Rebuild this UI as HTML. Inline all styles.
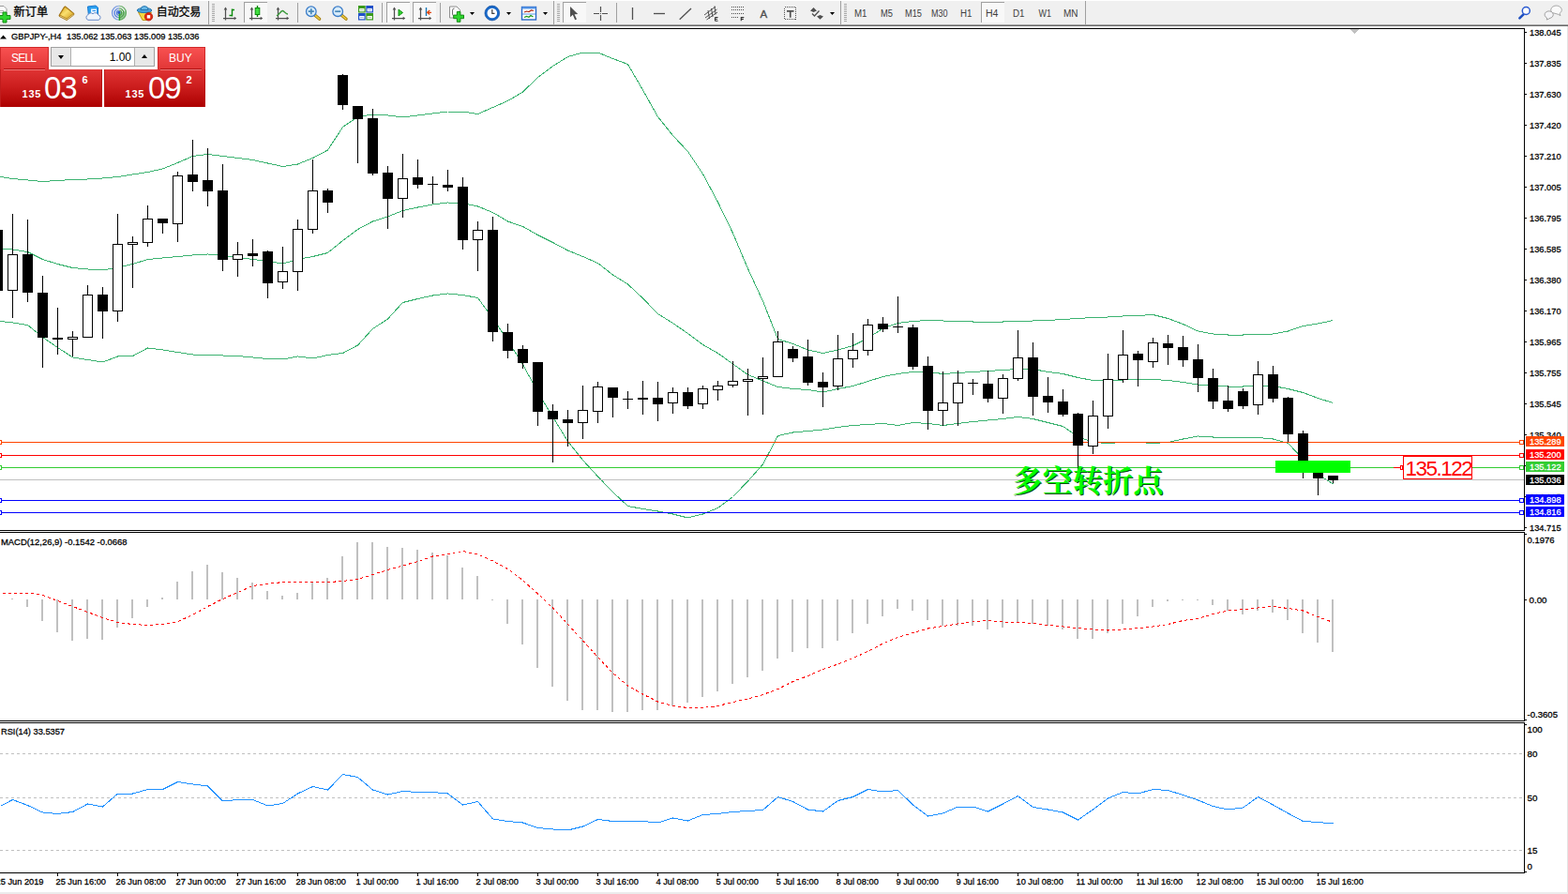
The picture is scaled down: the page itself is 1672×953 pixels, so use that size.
<!DOCTYPE html>
<html><head><meta charset="utf-8"><title>GBPJPY H4</title>
<style>
html,body{margin:0;padding:0;background:#fff;}
body{width:1672px;height:953px;overflow:hidden;position:relative;font-family:"Liberation Sans", sans-serif;}
#tb{position:absolute;left:0;top:0;width:1672px;height:28px;background:#f0f0f0;}
#tb .top{position:absolute;left:0;top:0;width:1672px;height:1px;background:#fff;}
#tb .l1{position:absolute;left:0;top:26px;width:1672px;height:1px;background:#a0a0a0;}
#tb .l2{position:absolute;left:0;top:27px;width:1672px;height:1px;background:#696969;}
#chart{position:absolute;left:0;top:0;}
.ax{font-family:"Liberation Sans", sans-serif;font-size:9.9px;stroke:currentColor;stroke-width:0.28px;}
svg text{font-family:"Liberation Sans", sans-serif;}
.rb{position:absolute;left:1671px;top:28px;width:1px;height:925px;background:#e4e4e4;}
.bb{position:absolute;left:0;top:951px;width:1672px;height:2px;background:#ececec;}
.oc div{position:absolute;}
.blk{background:linear-gradient(#f95252,#e13636);box-shadow:inset 1px 1px 0 #d02a2a,inset -1px 0 0 #d02a2a;}
.blk2{background:linear-gradient(#e03434,#cc1e1e 45%,#ac0000);box-shadow:inset 1px 0 0 #c01c1c,inset -1px 0 0 #b81414;}
.sep{height:1px;background:#f07878;box-shadow:0 -1px 0 #b01414;}
.t{color:#fff;font-size:12px;line-height:14px;}
.s{color:#fff;font-size:11px;font-weight:bold;line-height:12px;}
.big{color:#fff;font-size:33px;line-height:36px;letter-spacing:-1px;}
.inp{left:54px;top:50px;width:111px;height:21px;background:#fff;border:1px solid #a0a0a0;box-sizing:border-box;}
.inp .b1{left:0;top:0;width:20px;height:19px;background:#e8e8e8;border-right:1px solid #b0b0b0;}
.inp .b2{right:0;top:0;width:20px;height:19px;background:#e8e8e8;border-left:1px solid #b0b0b0;}
.inp .v{left:21px;top:1px;width:64px;height:19px;text-align:right;font-size:12px;line-height:19px;color:#000;}
.dn{position:absolute;left:7px;top:8px;border:3px solid transparent;border-top:4px solid #000;border-bottom:0;}
.upa{position:absolute;left:7px;top:7px;border:3px solid transparent;border-bottom:4px solid #000;border-top:0;}
</style></head><body>
<svg id="chart" width="1672" height="953" viewBox="0 0 1672 953" shape-rendering="crispEdges">
<rect x="0" y="30" width="1626" height="1" fill="#000"/>
<rect x="1625" y="30" width="1" height="536" fill="#000"/>
<rect x="0" y="565" width="1626" height="1" fill="#000"/>
<rect x="0" y="567" width="1626" height="1" fill="#000"/>
<rect x="1625" y="567" width="1" height="202" fill="#000"/>
<rect x="0" y="768" width="1626" height="1" fill="#000"/>
<rect x="0" y="770" width="1626" height="1" fill="#000"/>
<rect x="1625" y="770" width="1" height="161" fill="#000"/>
<rect x="0" y="930" width="1626" height="1" fill="#000"/>
<polyline points="0.5,188.5 13.5,190.5 29.5,192.0 45.5,193.5 61.5,192.5 77.5,191.5 93.5,191.0 109.5,190.0 125.5,188.5 141.5,186.0 157.5,183.5 173.5,180.0 189.5,173.5 205.5,166.5 221.5,164.5 237.5,166.5 253.5,168.5 269.5,170.5 285.5,174.0 301.5,177.5 317.5,175.0 333.5,168.5 349.5,160.0 365.5,135.5 381.5,124.5 397.5,122.0 413.5,123.0 429.5,125.0 445.5,123.0 461.5,121.0 477.5,119.0 493.5,119.0 509.5,121.5 525.5,114.5 541.5,107.5 557.5,98.0 573.5,82.5 589.5,70.5 605.5,60.5 621.5,56.0 637.5,56.0 653.5,62.5 669.5,68.5 685.5,96.0 701.5,124.5 717.5,144.5 733.5,161.5 749.5,185.5 765.5,215.5 781.5,248.5 797.5,286.5 813.5,321.0 829.5,361.5 845.5,366.5 861.5,373.0 877.5,376.5 893.5,373.0 909.5,368.5 925.5,360.5 941.5,350.0 957.5,344.5 973.5,342.5 989.5,341.5 1005.5,342.0 1021.5,342.5 1037.5,343.0 1053.5,343.0 1069.5,343.0 1085.5,342.5 1101.5,342.0 1117.5,341.5 1133.5,340.5 1149.5,339.5 1165.5,338.5 1181.5,338.0 1197.5,337.0 1213.5,336.5 1229.5,335.5 1245.5,339.5 1261.5,345.5 1277.5,353.0 1293.5,356.0 1309.5,357.0 1325.5,357.0 1341.5,356.5 1357.5,356.0 1373.5,353.0 1389.5,347.5 1405.5,345.0 1421.5,341.5" fill="none" stroke="#3cb371" stroke-width="1"/>
<polyline points="0.5,265.0 13.5,266.0 29.5,268.5 45.5,276.5 61.5,281.5 77.5,285.5 93.5,287.0 109.5,288.0 125.5,285.0 141.5,281.5 157.5,276.5 173.5,275.0 189.5,273.5 205.5,272.0 221.5,271.0 237.5,272.5 253.5,274.5 269.5,276.5 285.5,278.5 301.5,281.0 317.5,276.5 333.5,273.5 349.5,269.5 365.5,256.5 381.5,244.5 397.5,236.0 413.5,231.0 429.5,224.5 445.5,221.0 461.5,218.0 477.5,216.0 493.5,216.5 509.5,220.0 525.5,226.5 541.5,236.0 557.5,241.5 573.5,250.5 589.5,258.5 605.5,267.0 621.5,273.5 637.5,280.5 653.5,293.0 669.5,303.0 685.5,318.0 701.5,334.5 717.5,344.5 733.5,355.5 749.5,367.5 765.5,376.5 781.5,388.0 797.5,399.5 813.5,406.0 829.5,412.5 845.5,414.5 861.5,415.5 877.5,418.0 893.5,414.5 909.5,411.5 925.5,406.5 941.5,401.5 957.5,398.5 973.5,396.5 989.5,396.5 1005.5,398.5 1021.5,397.5 1037.5,396.5 1053.5,395.5 1069.5,394.5 1085.5,393.5 1101.5,393.5 1117.5,396.5 1133.5,398.5 1149.5,402.5 1165.5,405.5 1181.5,405.5 1197.5,405.0 1213.5,404.5 1229.5,404.5 1245.5,405.5 1261.5,407.5 1277.5,410.0 1293.5,411.0 1309.5,412.0 1325.5,412.0 1341.5,411.0 1357.5,411.5 1373.5,414.5 1389.5,418.5 1405.5,424.5 1421.5,429.5" fill="none" stroke="#3cb371" stroke-width="1"/>
<polyline points="0.5,342.5 13.5,344.0 29.5,346.5 45.5,359.5 61.5,370.5 77.5,381.0 93.5,383.5 109.5,386.0 125.5,380.0 141.5,379.5 157.5,371.0 173.5,373.0 189.5,375.5 205.5,378.0 221.5,378.5 237.5,379.0 253.5,379.5 269.5,381.0 285.5,382.5 301.5,383.0 317.5,380.0 333.5,382.0 349.5,378.5 365.5,376.5 381.5,368.0 397.5,350.5 413.5,340.0 429.5,322.5 445.5,318.5 461.5,315.0 477.5,313.0 493.5,314.5 509.5,317.5 525.5,339.5 541.5,363.0 557.5,388.5 573.5,418.0 589.5,444.5 605.5,470.5 621.5,490.5 637.5,508.0 653.5,524.5 669.5,539.5 685.5,542.5 701.5,545.0 717.5,548.0 733.5,552.0 749.5,548.0 765.5,541.5 781.5,529.5 797.5,513.0 813.5,495.0 829.5,464.5 845.5,461.0 861.5,459.5 877.5,458.0 893.5,455.5 909.5,453.5 925.5,452.5 941.5,451.5 957.5,453.5 973.5,450.5 989.5,451.5 1005.5,453.5 1021.5,451.5 1037.5,449.5 1053.5,448.0 1069.5,446.5 1085.5,444.5 1101.5,446.5 1117.5,450.5 1133.5,454.5 1149.5,465.5 1165.5,471.5 1181.5,472.5 1197.5,471.5 1213.5,471.5 1229.5,472.5 1245.5,471.5 1261.5,468.0 1277.5,465.0 1293.5,466.0 1309.5,466.0 1325.5,467.0 1341.5,466.5 1357.5,468.0 1373.5,472.5 1389.5,489.5 1405.5,505.5 1421.5,516.0" fill="none" stroke="#3cb371" stroke-width="1"/>
<rect x="0" y="511" width="1625" height="1" fill="#c0c0c0"/>
<rect x="0" y="471" width="1625" height="1" fill="#ff4500"/>
<rect x="-2.5" y="469.5" width="4" height="4" fill="#fff" stroke="#ff4500"/>
<rect x="1620.5" y="469.5" width="4" height="4" fill="#fff" stroke="#ff4500"/>
<rect x="0" y="485" width="1625" height="1" fill="#ff0000"/>
<rect x="-2.5" y="483.5" width="4" height="4" fill="#fff" stroke="#ff0000"/>
<rect x="1620.5" y="483.5" width="4" height="4" fill="#fff" stroke="#ff0000"/>
<rect x="0" y="498" width="1625" height="1" fill="#32cd32"/>
<rect x="-2.5" y="496.5" width="4" height="4" fill="#fff" stroke="#32cd32"/>
<rect x="1620.5" y="496.5" width="4" height="4" fill="#fff" stroke="#32cd32"/>
<rect x="0" y="533" width="1625" height="1" fill="#0000ff"/>
<rect x="-2.5" y="531.5" width="4" height="4" fill="#fff" stroke="#0000ff"/>
<rect x="1620.5" y="531.5" width="4" height="4" fill="#fff" stroke="#0000ff"/>
<rect x="0" y="546" width="1625" height="1" fill="#0000ff"/>
<rect x="-2.5" y="544.5" width="4" height="4" fill="#fff" stroke="#0000ff"/>
<rect x="1620.5" y="544.5" width="4" height="4" fill="#fff" stroke="#0000ff"/>
<rect x="-3" y="243" width="1" height="68" fill="#000"/>
<rect x="-8" y="245" width="11" height="65" fill="#000"/>
<rect x="13" y="228" width="1" height="111" fill="#000"/>
<rect x="8" y="271" width="11" height="39" fill="#000"/>
<rect x="9" y="272" width="9" height="37" fill="#fff"/>
<rect x="29" y="234" width="1" height="88" fill="#000"/>
<rect x="24" y="271" width="11" height="41" fill="#000"/>
<rect x="45" y="294" width="1" height="98" fill="#000"/>
<rect x="40" y="312" width="11" height="48" fill="#000"/>
<rect x="61" y="328" width="1" height="50" fill="#000"/>
<rect x="56" y="360" width="11" height="2" fill="#000"/>
<rect x="77" y="353" width="1" height="27" fill="#000"/>
<rect x="72" y="359" width="11" height="3" fill="#000"/>
<rect x="73" y="360" width="9" height="1" fill="#fff"/>
<rect x="93" y="304" width="1" height="56" fill="#000"/>
<rect x="88" y="314" width="11" height="46" fill="#000"/>
<rect x="89" y="315" width="9" height="44" fill="#fff"/>
<rect x="109" y="306" width="1" height="55" fill="#000"/>
<rect x="104" y="314" width="11" height="18" fill="#000"/>
<rect x="125" y="228" width="1" height="115" fill="#000"/>
<rect x="120" y="260" width="11" height="72" fill="#000"/>
<rect x="121" y="261" width="9" height="70" fill="#fff"/>
<rect x="141" y="252" width="1" height="55" fill="#000"/>
<rect x="136" y="258" width="11" height="3" fill="#000"/>
<rect x="137" y="259" width="9" height="1" fill="#fff"/>
<rect x="157" y="219" width="1" height="44" fill="#000"/>
<rect x="152" y="233" width="11" height="26" fill="#000"/>
<rect x="153" y="234" width="9" height="24" fill="#fff"/>
<rect x="173" y="233" width="1" height="16" fill="#000"/>
<rect x="168" y="233" width="11" height="5" fill="#000"/>
<rect x="189" y="183" width="1" height="75" fill="#000"/>
<rect x="184" y="187" width="11" height="52" fill="#000"/>
<rect x="185" y="188" width="9" height="50" fill="#fff"/>
<rect x="205" y="149" width="1" height="55" fill="#000"/>
<rect x="200" y="186" width="11" height="8" fill="#000"/>
<rect x="221" y="158" width="1" height="62" fill="#000"/>
<rect x="216" y="192" width="11" height="12" fill="#000"/>
<rect x="237" y="175" width="1" height="114" fill="#000"/>
<rect x="232" y="203" width="11" height="74" fill="#000"/>
<rect x="253" y="258" width="1" height="37" fill="#000"/>
<rect x="248" y="271" width="11" height="6" fill="#000"/>
<rect x="249" y="272" width="9" height="4" fill="#fff"/>
<rect x="269" y="255" width="1" height="29" fill="#000"/>
<rect x="264" y="270" width="11" height="3" fill="#000"/>
<rect x="285" y="267" width="1" height="51" fill="#000"/>
<rect x="280" y="268" width="11" height="34" fill="#000"/>
<rect x="301" y="263" width="1" height="45" fill="#000"/>
<rect x="296" y="289" width="11" height="12" fill="#000"/>
<rect x="297" y="290" width="9" height="10" fill="#fff"/>
<rect x="317" y="234" width="1" height="76" fill="#000"/>
<rect x="312" y="244" width="11" height="46" fill="#000"/>
<rect x="313" y="245" width="9" height="44" fill="#fff"/>
<rect x="333" y="170" width="1" height="79" fill="#000"/>
<rect x="328" y="203" width="11" height="42" fill="#000"/>
<rect x="329" y="204" width="9" height="40" fill="#fff"/>
<rect x="349" y="201" width="1" height="26" fill="#000"/>
<rect x="344" y="203" width="11" height="13" fill="#000"/>
<rect x="365" y="79" width="1" height="38" fill="#000"/>
<rect x="360" y="80" width="11" height="32" fill="#000"/>
<rect x="381" y="113" width="1" height="61" fill="#000"/>
<rect x="376" y="113" width="11" height="14" fill="#000"/>
<rect x="397" y="116" width="1" height="71" fill="#000"/>
<rect x="392" y="126" width="11" height="59" fill="#000"/>
<rect x="413" y="177" width="1" height="67" fill="#000"/>
<rect x="408" y="184" width="11" height="28" fill="#000"/>
<rect x="429" y="164" width="1" height="68" fill="#000"/>
<rect x="424" y="190" width="11" height="22" fill="#000"/>
<rect x="425" y="191" width="9" height="20" fill="#fff"/>
<rect x="445" y="170" width="1" height="31" fill="#000"/>
<rect x="440" y="189" width="11" height="8" fill="#000"/>
<rect x="461" y="188" width="1" height="29" fill="#000"/>
<rect x="456" y="196" width="11" height="1" fill="#000"/>
<rect x="477" y="181" width="1" height="23" fill="#000"/>
<rect x="472" y="197" width="11" height="3" fill="#000"/>
<rect x="493" y="189" width="1" height="77" fill="#000"/>
<rect x="488" y="199" width="11" height="57" fill="#000"/>
<rect x="509" y="236" width="1" height="53" fill="#000"/>
<rect x="504" y="245" width="11" height="11" fill="#000"/>
<rect x="505" y="246" width="9" height="9" fill="#fff"/>
<rect x="525" y="231" width="1" height="133" fill="#000"/>
<rect x="520" y="245" width="11" height="109" fill="#000"/>
<rect x="541" y="345" width="1" height="37" fill="#000"/>
<rect x="536" y="354" width="11" height="20" fill="#000"/>
<rect x="557" y="368" width="1" height="25" fill="#000"/>
<rect x="552" y="372" width="11" height="15" fill="#000"/>
<rect x="573" y="386" width="1" height="68" fill="#000"/>
<rect x="568" y="386" width="11" height="53" fill="#000"/>
<rect x="589" y="431" width="1" height="62" fill="#000"/>
<rect x="584" y="438" width="11" height="9" fill="#000"/>
<rect x="605" y="437" width="1" height="39" fill="#000"/>
<rect x="600" y="447" width="11" height="4" fill="#000"/>
<rect x="621" y="411" width="1" height="57" fill="#000"/>
<rect x="616" y="437" width="11" height="14" fill="#000"/>
<rect x="617" y="438" width="9" height="12" fill="#fff"/>
<rect x="637" y="407" width="1" height="44" fill="#000"/>
<rect x="632" y="412" width="11" height="27" fill="#000"/>
<rect x="633" y="413" width="9" height="25" fill="#fff"/>
<rect x="653" y="413" width="1" height="32" fill="#000"/>
<rect x="648" y="413" width="11" height="11" fill="#000"/>
<rect x="669" y="417" width="1" height="19" fill="#000"/>
<rect x="664" y="425" width="11" height="1" fill="#000"/>
<rect x="685" y="406" width="1" height="36" fill="#000"/>
<rect x="680" y="424" width="11" height="2" fill="#000"/>
<rect x="701" y="407" width="1" height="42" fill="#000"/>
<rect x="696" y="424" width="11" height="7" fill="#000"/>
<rect x="717" y="413" width="1" height="28" fill="#000"/>
<rect x="712" y="418" width="11" height="12" fill="#000"/>
<rect x="713" y="419" width="9" height="10" fill="#fff"/>
<rect x="733" y="413" width="1" height="23" fill="#000"/>
<rect x="728" y="418" width="11" height="15" fill="#000"/>
<rect x="749" y="411" width="1" height="25" fill="#000"/>
<rect x="744" y="414" width="11" height="17" fill="#000"/>
<rect x="745" y="415" width="9" height="15" fill="#fff"/>
<rect x="765" y="406" width="1" height="21" fill="#000"/>
<rect x="760" y="411" width="11" height="5" fill="#000"/>
<rect x="761" y="412" width="9" height="3" fill="#fff"/>
<rect x="781" y="385" width="1" height="28" fill="#000"/>
<rect x="776" y="406" width="11" height="5" fill="#000"/>
<rect x="777" y="407" width="9" height="3" fill="#fff"/>
<rect x="797" y="393" width="1" height="50" fill="#000"/>
<rect x="792" y="404" width="11" height="3" fill="#000"/>
<rect x="793" y="405" width="9" height="1" fill="#fff"/>
<rect x="813" y="381" width="1" height="61" fill="#000"/>
<rect x="808" y="401" width="11" height="3" fill="#000"/>
<rect x="809" y="402" width="9" height="1" fill="#fff"/>
<rect x="829" y="353" width="1" height="49" fill="#000"/>
<rect x="824" y="364" width="11" height="38" fill="#000"/>
<rect x="825" y="365" width="9" height="36" fill="#fff"/>
<rect x="845" y="369" width="1" height="17" fill="#000"/>
<rect x="840" y="372" width="11" height="10" fill="#000"/>
<rect x="861" y="362" width="1" height="49" fill="#000"/>
<rect x="856" y="380" width="11" height="28" fill="#000"/>
<rect x="877" y="397" width="1" height="37" fill="#000"/>
<rect x="872" y="407" width="11" height="6" fill="#000"/>
<rect x="893" y="357" width="1" height="59" fill="#000"/>
<rect x="888" y="382" width="11" height="30" fill="#000"/>
<rect x="889" y="383" width="9" height="28" fill="#fff"/>
<rect x="909" y="355" width="1" height="37" fill="#000"/>
<rect x="904" y="373" width="11" height="10" fill="#000"/>
<rect x="905" y="374" width="9" height="8" fill="#fff"/>
<rect x="925" y="340" width="1" height="39" fill="#000"/>
<rect x="920" y="346" width="11" height="28" fill="#000"/>
<rect x="921" y="347" width="9" height="26" fill="#fff"/>
<rect x="941" y="338" width="1" height="16" fill="#000"/>
<rect x="936" y="345" width="11" height="6" fill="#000"/>
<rect x="957" y="316" width="1" height="39" fill="#000"/>
<rect x="952" y="348" width="11" height="1" fill="#000"/>
<rect x="973" y="346" width="1" height="48" fill="#000"/>
<rect x="968" y="349" width="11" height="42" fill="#000"/>
<rect x="989" y="380" width="1" height="78" fill="#000"/>
<rect x="984" y="390" width="11" height="48" fill="#000"/>
<rect x="1005" y="396" width="1" height="58" fill="#000"/>
<rect x="1000" y="429" width="11" height="9" fill="#000"/>
<rect x="1001" y="430" width="9" height="7" fill="#fff"/>
<rect x="1021" y="395" width="1" height="59" fill="#000"/>
<rect x="1016" y="408" width="11" height="22" fill="#000"/>
<rect x="1017" y="409" width="9" height="20" fill="#fff"/>
<rect x="1037" y="404" width="1" height="17" fill="#000"/>
<rect x="1032" y="408" width="11" height="1" fill="#000"/>
<rect x="1053" y="395" width="1" height="34" fill="#000"/>
<rect x="1048" y="409" width="11" height="16" fill="#000"/>
<rect x="1069" y="399" width="1" height="42" fill="#000"/>
<rect x="1064" y="403" width="11" height="22" fill="#000"/>
<rect x="1065" y="404" width="9" height="20" fill="#fff"/>
<rect x="1085" y="352" width="1" height="54" fill="#000"/>
<rect x="1080" y="381" width="11" height="23" fill="#000"/>
<rect x="1081" y="382" width="9" height="21" fill="#fff"/>
<rect x="1101" y="365" width="1" height="78" fill="#000"/>
<rect x="1096" y="381" width="11" height="42" fill="#000"/>
<rect x="1117" y="402" width="1" height="38" fill="#000"/>
<rect x="1112" y="422" width="11" height="7" fill="#000"/>
<rect x="1133" y="415" width="1" height="29" fill="#000"/>
<rect x="1128" y="428" width="11" height="14" fill="#000"/>
<rect x="1149" y="440" width="1" height="62" fill="#000"/>
<rect x="1144" y="441" width="11" height="34" fill="#000"/>
<rect x="1165" y="427" width="1" height="57" fill="#000"/>
<rect x="1160" y="443" width="11" height="33" fill="#000"/>
<rect x="1161" y="444" width="9" height="31" fill="#fff"/>
<rect x="1181" y="377" width="1" height="80" fill="#000"/>
<rect x="1176" y="404" width="11" height="40" fill="#000"/>
<rect x="1177" y="405" width="9" height="38" fill="#fff"/>
<rect x="1197" y="352" width="1" height="56" fill="#000"/>
<rect x="1192" y="378" width="11" height="27" fill="#000"/>
<rect x="1193" y="379" width="9" height="25" fill="#fff"/>
<rect x="1213" y="374" width="1" height="38" fill="#000"/>
<rect x="1208" y="377" width="11" height="7" fill="#000"/>
<rect x="1229" y="360" width="1" height="32" fill="#000"/>
<rect x="1224" y="365" width="11" height="21" fill="#000"/>
<rect x="1225" y="366" width="9" height="19" fill="#fff"/>
<rect x="1245" y="357" width="1" height="32" fill="#000"/>
<rect x="1240" y="366" width="11" height="5" fill="#000"/>
<rect x="1261" y="358" width="1" height="33" fill="#000"/>
<rect x="1256" y="370" width="11" height="14" fill="#000"/>
<rect x="1277" y="367" width="1" height="51" fill="#000"/>
<rect x="1272" y="383" width="11" height="20" fill="#000"/>
<rect x="1293" y="393" width="1" height="43" fill="#000"/>
<rect x="1288" y="403" width="11" height="25" fill="#000"/>
<rect x="1309" y="411" width="1" height="28" fill="#000"/>
<rect x="1304" y="427" width="11" height="9" fill="#000"/>
<rect x="1325" y="414" width="1" height="22" fill="#000"/>
<rect x="1320" y="417" width="11" height="16" fill="#000"/>
<rect x="1341" y="385" width="1" height="57" fill="#000"/>
<rect x="1336" y="399" width="11" height="33" fill="#000"/>
<rect x="1337" y="400" width="9" height="31" fill="#fff"/>
<rect x="1357" y="390" width="1" height="39" fill="#000"/>
<rect x="1352" y="399" width="11" height="26" fill="#000"/>
<rect x="1373" y="423" width="1" height="48" fill="#000"/>
<rect x="1368" y="424" width="11" height="39" fill="#000"/>
<rect x="1389" y="459" width="1" height="51" fill="#000"/>
<rect x="1384" y="462" width="11" height="30" fill="#000"/>
<rect x="1405" y="500" width="1" height="28" fill="#000"/>
<rect x="1400" y="504" width="11" height="6" fill="#000"/>
<rect x="1421" y="507" width="1" height="8" fill="#000"/>
<rect x="1416" y="507" width="11" height="5" fill="#000"/>
<rect x="1360" y="491" width="80" height="13" fill="#00ff00"/>
<rect x="1626" y="34" width="2" height="1" fill="#000"/>
<text x="1631" y="38.1" class="ax" textLength="33.6" lengthAdjust="spacingAndGlyphs">138.045</text>
<rect x="1626" y="67" width="2" height="1" fill="#000"/>
<text x="1631" y="71.1" class="ax" textLength="33.6" lengthAdjust="spacingAndGlyphs">137.835</text>
<rect x="1626" y="100" width="2" height="1" fill="#000"/>
<text x="1631" y="104.1" class="ax" textLength="33.6" lengthAdjust="spacingAndGlyphs">137.630</text>
<rect x="1626" y="133" width="2" height="1" fill="#000"/>
<text x="1631" y="137.1" class="ax" textLength="33.6" lengthAdjust="spacingAndGlyphs">137.420</text>
<rect x="1626" y="166" width="2" height="1" fill="#000"/>
<text x="1631" y="170.1" class="ax" textLength="33.6" lengthAdjust="spacingAndGlyphs">137.210</text>
<rect x="1626" y="199" width="2" height="1" fill="#000"/>
<text x="1631" y="203.1" class="ax" textLength="33.6" lengthAdjust="spacingAndGlyphs">137.005</text>
<rect x="1626" y="232" width="2" height="1" fill="#000"/>
<text x="1631" y="236.1" class="ax" textLength="33.6" lengthAdjust="spacingAndGlyphs">136.795</text>
<rect x="1626" y="265" width="2" height="1" fill="#000"/>
<text x="1631" y="269.1" class="ax" textLength="33.6" lengthAdjust="spacingAndGlyphs">136.585</text>
<rect x="1626" y="298" width="2" height="1" fill="#000"/>
<text x="1631" y="302.1" class="ax" textLength="33.6" lengthAdjust="spacingAndGlyphs">136.380</text>
<rect x="1626" y="331" width="2" height="1" fill="#000"/>
<text x="1631" y="335.1" class="ax" textLength="33.6" lengthAdjust="spacingAndGlyphs">136.170</text>
<rect x="1626" y="364" width="2" height="1" fill="#000"/>
<text x="1631" y="368.1" class="ax" textLength="33.6" lengthAdjust="spacingAndGlyphs">135.965</text>
<rect x="1626" y="397" width="2" height="1" fill="#000"/>
<text x="1631" y="401.1" class="ax" textLength="33.6" lengthAdjust="spacingAndGlyphs">135.755</text>
<rect x="1626" y="430" width="2" height="1" fill="#000"/>
<text x="1631" y="434.1" class="ax" textLength="33.6" lengthAdjust="spacingAndGlyphs">135.545</text>
<rect x="1626" y="463" width="2" height="1" fill="#000"/>
<text x="1631" y="467.1" class="ax" textLength="33.6" lengthAdjust="spacingAndGlyphs">135.340</text>
<rect x="1626" y="496" width="2" height="1" fill="#000"/>
<text x="1631" y="500.1" class="ax" textLength="33.6" lengthAdjust="spacingAndGlyphs">135.130</text>
<rect x="1626" y="529" width="2" height="1" fill="#000"/>
<text x="1631" y="533.1" class="ax" textLength="33.6" lengthAdjust="spacingAndGlyphs">134.925</text>
<rect x="1626" y="562" width="2" height="1" fill="#000"/>
<text x="1631" y="566.1" class="ax" textLength="33.6" lengthAdjust="spacingAndGlyphs">134.715</text>
<rect x="1627" y="465" width="41" height="11" fill="#ff4500"/>
<text x="1631" y="474.3" class="ax" fill="#fff" style="color:#fff" textLength="33.6" lengthAdjust="spacingAndGlyphs">135.289</text>
<rect x="1627" y="479" width="41" height="11" fill="#ff0000"/>
<text x="1631" y="488.3" class="ax" fill="#fff" style="color:#fff" textLength="33.6" lengthAdjust="spacingAndGlyphs">135.200</text>
<rect x="1627" y="492" width="41" height="11" fill="#32cd32"/>
<text x="1631" y="501.3" class="ax" fill="#fff" style="color:#fff" textLength="33.6" lengthAdjust="spacingAndGlyphs">135.122</text>
<rect x="1627" y="527" width="41" height="11" fill="#0000ff"/>
<text x="1631" y="536.3" class="ax" fill="#fff" style="color:#fff" textLength="33.6" lengthAdjust="spacingAndGlyphs">134.898</text>
<rect x="1627" y="540" width="41" height="11" fill="#0000ff"/>
<text x="1631" y="549.3" class="ax" fill="#fff" style="color:#fff" textLength="33.6" lengthAdjust="spacingAndGlyphs">134.816</text>
<rect x="1627" y="506" width="41" height="11" fill="#000000"/>
<text x="1631" y="515.3" class="ax" fill="#fff" style="color:#fff" textLength="33.6" lengthAdjust="spacingAndGlyphs">135.036</text>
<rect x="12" y="638" width="2" height="1" fill="#c0c0c0"/>
<rect x="28" y="639" width="2" height="8" fill="#c0c0c0"/>
<rect x="44" y="639" width="2" height="23" fill="#c0c0c0"/>
<rect x="60" y="639" width="2" height="35" fill="#c0c0c0"/>
<rect x="76" y="639" width="2" height="44" fill="#c0c0c0"/>
<rect x="92" y="639" width="2" height="42" fill="#c0c0c0"/>
<rect x="108" y="639" width="2" height="43" fill="#c0c0c0"/>
<rect x="124" y="639" width="2" height="30" fill="#c0c0c0"/>
<rect x="140" y="639" width="2" height="20" fill="#c0c0c0"/>
<rect x="156" y="639" width="2" height="8" fill="#c0c0c0"/>
<rect x="172" y="637" width="2" height="2" fill="#c0c0c0"/>
<rect x="188" y="620" width="2" height="19" fill="#c0c0c0"/>
<rect x="204" y="609" width="2" height="30" fill="#c0c0c0"/>
<rect x="220" y="602" width="2" height="37" fill="#c0c0c0"/>
<rect x="236" y="610" width="2" height="29" fill="#c0c0c0"/>
<rect x="252" y="616" width="2" height="23" fill="#c0c0c0"/>
<rect x="268" y="621" width="2" height="18" fill="#c0c0c0"/>
<rect x="284" y="630" width="2" height="9" fill="#c0c0c0"/>
<rect x="300" y="635" width="2" height="4" fill="#c0c0c0"/>
<rect x="316" y="632" width="2" height="7" fill="#c0c0c0"/>
<rect x="332" y="620" width="2" height="19" fill="#c0c0c0"/>
<rect x="348" y="616" width="2" height="23" fill="#c0c0c0"/>
<rect x="364" y="593" width="2" height="46" fill="#c0c0c0"/>
<rect x="380" y="578" width="2" height="61" fill="#c0c0c0"/>
<rect x="396" y="578" width="2" height="61" fill="#c0c0c0"/>
<rect x="412" y="583" width="2" height="56" fill="#c0c0c0"/>
<rect x="428" y="584" width="2" height="55" fill="#c0c0c0"/>
<rect x="444" y="586" width="2" height="53" fill="#c0c0c0"/>
<rect x="460" y="589" width="2" height="50" fill="#c0c0c0"/>
<rect x="476" y="592" width="2" height="47" fill="#c0c0c0"/>
<rect x="492" y="605" width="2" height="34" fill="#c0c0c0"/>
<rect x="508" y="614" width="2" height="25" fill="#c0c0c0"/>
<rect x="524" y="639" width="2" height="1" fill="#c0c0c0"/>
<rect x="540" y="639" width="2" height="26" fill="#c0c0c0"/>
<rect x="556" y="639" width="2" height="48" fill="#c0c0c0"/>
<rect x="572" y="639" width="2" height="73" fill="#c0c0c0"/>
<rect x="588" y="639" width="2" height="93" fill="#c0c0c0"/>
<rect x="604" y="639" width="2" height="108" fill="#c0c0c0"/>
<rect x="620" y="639" width="2" height="118" fill="#c0c0c0"/>
<rect x="636" y="639" width="2" height="118" fill="#c0c0c0"/>
<rect x="652" y="639" width="2" height="120" fill="#c0c0c0"/>
<rect x="668" y="639" width="2" height="120" fill="#c0c0c0"/>
<rect x="684" y="639" width="2" height="118" fill="#c0c0c0"/>
<rect x="700" y="639" width="2" height="118" fill="#c0c0c0"/>
<rect x="716" y="639" width="2" height="113" fill="#c0c0c0"/>
<rect x="732" y="639" width="2" height="110" fill="#c0c0c0"/>
<rect x="748" y="639" width="2" height="104" fill="#c0c0c0"/>
<rect x="764" y="639" width="2" height="98" fill="#c0c0c0"/>
<rect x="780" y="639" width="2" height="90" fill="#c0c0c0"/>
<rect x="796" y="639" width="2" height="83" fill="#c0c0c0"/>
<rect x="812" y="639" width="2" height="76" fill="#c0c0c0"/>
<rect x="828" y="639" width="2" height="63" fill="#c0c0c0"/>
<rect x="844" y="639" width="2" height="56" fill="#c0c0c0"/>
<rect x="860" y="639" width="2" height="52" fill="#c0c0c0"/>
<rect x="876" y="639" width="2" height="52" fill="#c0c0c0"/>
<rect x="892" y="639" width="2" height="44" fill="#c0c0c0"/>
<rect x="908" y="639" width="2" height="36" fill="#c0c0c0"/>
<rect x="924" y="639" width="2" height="26" fill="#c0c0c0"/>
<rect x="940" y="639" width="2" height="18" fill="#c0c0c0"/>
<rect x="956" y="639" width="2" height="10" fill="#c0c0c0"/>
<rect x="972" y="639" width="2" height="12" fill="#c0c0c0"/>
<rect x="988" y="639" width="2" height="22" fill="#c0c0c0"/>
<rect x="1004" y="639" width="2" height="28" fill="#c0c0c0"/>
<rect x="1020" y="639" width="2" height="28" fill="#c0c0c0"/>
<rect x="1036" y="639" width="2" height="28" fill="#c0c0c0"/>
<rect x="1052" y="639" width="2" height="32" fill="#c0c0c0"/>
<rect x="1068" y="639" width="2" height="30" fill="#c0c0c0"/>
<rect x="1084" y="639" width="2" height="24" fill="#c0c0c0"/>
<rect x="1100" y="639" width="2" height="26" fill="#c0c0c0"/>
<rect x="1116" y="639" width="2" height="28" fill="#c0c0c0"/>
<rect x="1132" y="639" width="2" height="32" fill="#c0c0c0"/>
<rect x="1148" y="639" width="2" height="42" fill="#c0c0c0"/>
<rect x="1164" y="639" width="2" height="42" fill="#c0c0c0"/>
<rect x="1180" y="639" width="2" height="36" fill="#c0c0c0"/>
<rect x="1196" y="639" width="2" height="26" fill="#c0c0c0"/>
<rect x="1212" y="639" width="2" height="18" fill="#c0c0c0"/>
<rect x="1228" y="639" width="2" height="8" fill="#c0c0c0"/>
<rect x="1244" y="639" width="2" height="2" fill="#c0c0c0"/>
<rect x="1260" y="639" width="2" height="1" fill="#c0c0c0"/>
<rect x="1276" y="639" width="2" height="1" fill="#c0c0c0"/>
<rect x="1292" y="639" width="2" height="6" fill="#c0c0c0"/>
<rect x="1308" y="639" width="2" height="12" fill="#c0c0c0"/>
<rect x="1324" y="639" width="2" height="16" fill="#c0c0c0"/>
<rect x="1340" y="639" width="2" height="12" fill="#c0c0c0"/>
<rect x="1356" y="639" width="2" height="14" fill="#c0c0c0"/>
<rect x="1372" y="639" width="2" height="22" fill="#c0c0c0"/>
<rect x="1388" y="639" width="2" height="36" fill="#c0c0c0"/>
<rect x="1404" y="639" width="2" height="46" fill="#c0c0c0"/>
<rect x="1420" y="639" width="2" height="56" fill="#c0c0c0"/>
<polyline points="3.5,633.0 13.5,632.0 29.5,632.0 45.5,634.5 61.5,640.5 77.5,646.5 93.5,652.5 109.5,658.5 125.5,663.5 141.5,665.5 157.5,666.5 173.5,665.5 189.5,662.5 205.5,655.5 221.5,646.5 237.5,638.5 253.5,631.5 269.5,624.5 285.5,622.5 301.5,620.5 317.5,620.0 333.5,621.0 349.5,620.5 365.5,619.5 381.5,617.5 397.5,612.5 413.5,607.5 429.5,603.0 445.5,598.5 461.5,593.0 477.5,590.5 493.5,587.5 509.5,591.0 525.5,598.0 541.5,606.5 557.5,618.5 573.5,633.0 589.5,648.0 605.5,665.5 621.5,683.0 637.5,700.5 653.5,717.5 669.5,731.0 685.5,740.0 701.5,748.0 717.5,752.5 733.5,754.5 749.5,754.5 765.5,752.5 781.5,748.5 797.5,745.0 813.5,740.5 829.5,734.5 845.5,726.5 861.5,720.5 877.5,713.5 893.5,708.0 909.5,701.5 925.5,694.5 941.5,686.0 957.5,679.5 973.5,674.5 989.5,670.0 1005.5,667.5 1021.5,665.0 1037.5,663.0 1053.5,661.5 1069.5,663.0 1085.5,663.0 1101.5,664.5 1117.5,666.5 1133.5,668.0 1149.5,669.5 1165.5,671.0 1181.5,672.0 1197.5,671.0 1213.5,669.5 1229.5,668.0 1245.5,665.5 1261.5,661.5 1277.5,659.5 1293.5,654.5 1309.5,651.0 1325.5,649.5 1341.5,648.0 1357.5,646.5 1373.5,648.5 1389.5,651.0 1405.5,657.5 1421.5,663.5" fill="none" stroke="#ff0000" stroke-width="1" stroke-dasharray="3 3"/>
<rect x="1626" y="569" width="2" height="1" fill="#000"/>
<rect x="1626" y="639" width="2" height="1" fill="#000"/>
<rect x="1626" y="767" width="2" height="1" fill="#000"/>
<rect x="1626" y="772" width="2" height="1" fill="#000"/>
<rect x="1626" y="929" width="2" height="1" fill="#000"/>
<text x="1628.5" y="578.5" class="ax" textLength="29" lengthAdjust="spacingAndGlyphs">0.1976</text>
<text x="1630.5" y="643.2" class="ax" textLength="19" lengthAdjust="spacingAndGlyphs">0.00</text>
<text x="1628.5" y="765" class="ax" textLength="32.5" lengthAdjust="spacingAndGlyphs">-0.3605</text>
<text x="1" y="580.5" class="ax" textLength="134.5" lengthAdjust="spacingAndGlyphs">MACD(12,26,9) -0.1542 -0.0668</text>
<line x1="0" y1="803.5" x2="1625" y2="803.5" stroke="#c0c0c0" stroke-dasharray="3 3"/>
<line x1="0" y1="850.5" x2="1625" y2="850.5" stroke="#c0c0c0" stroke-dasharray="3 3"/>
<line x1="0" y1="906.5" x2="1625" y2="906.5" stroke="#c0c0c0" stroke-dasharray="3 3"/>
<polyline points="0.5,859.2 13.5,852.5 29.5,858.5 45.5,866.0 61.5,867.5 77.5,865.5 93.5,857.0 109.5,860.0 125.5,846.0 141.5,846.0 157.5,841.5 173.5,841.5 189.5,833.5 205.5,836.0 221.5,838.0 237.5,854.0 253.5,852.5 269.5,852.5 285.5,859.0 301.5,856.5 317.5,846.0 333.5,838.5 349.5,842.0 365.5,825.5 381.5,828.5 397.5,842.0 413.5,847.0 429.5,843.5 445.5,844.5 461.5,844.5 477.5,846.0 493.5,858.0 509.5,854.5 525.5,873.0 541.5,875.5 557.5,877.0 573.5,882.5 589.5,884.0 605.5,885.0 621.5,881.0 637.5,873.5 653.5,875.5 669.5,875.5 685.5,875.5 701.5,877.0 717.5,872.0 733.5,875.0 749.5,868.5 765.5,867.5 781.5,865.5 797.5,864.5 813.5,863.5 829.5,849.5 845.5,854.5 861.5,863.0 877.5,865.0 893.5,853.5 909.5,849.5 925.5,841.5 941.5,844.0 957.5,842.5 973.5,858.0 989.5,870.0 1005.5,867.0 1021.5,860.0 1037.5,860.0 1053.5,865.0 1069.5,857.0 1085.5,848.5 1101.5,860.5 1117.5,863.0 1133.5,866.0 1149.5,874.0 1165.5,863.0 1181.5,851.0 1197.5,844.5 1213.5,846.0 1229.5,841.5 1245.5,842.5 1261.5,847.5 1277.5,853.0 1293.5,859.5 1309.5,863.0 1325.5,861.0 1341.5,849.5 1357.5,858.0 1373.5,867.0 1389.5,875.5 1405.5,876.5 1421.5,878.0" fill="none" stroke="#1e90ff" stroke-width="1"/>
<text x="1628.5" y="781.2" class="ax" textLength="16.3" lengthAdjust="spacingAndGlyphs">100</text>
<text x="1628.5" y="807.2" class="ax" textLength="10.9" lengthAdjust="spacingAndGlyphs">80</text>
<text x="1628.5" y="854.2" class="ax" textLength="10.9" lengthAdjust="spacingAndGlyphs">50</text>
<text x="1628.5" y="910.2" class="ax" textLength="10.9" lengthAdjust="spacingAndGlyphs">15</text>
<text x="1628.5" y="927.2" class="ax" textLength="5.4" lengthAdjust="spacingAndGlyphs">0</text>
<text x="1" y="782.6" class="ax" textLength="68" lengthAdjust="spacingAndGlyphs">RSI(14) 33.5357</text>
<text x="46.5" y="943" class="ax" text-anchor="end" textLength="50.9" lengthAdjust="spacingAndGlyphs">25 Jun 2019</text>
<rect x="61" y="931" width="1" height="3" fill="#000"/>
<text x="59.5" y="943" class="ax" textLength="53.5" lengthAdjust="spacingAndGlyphs">25 Jun 16:00</text>
<rect x="125" y="931" width="1" height="3" fill="#000"/>
<text x="123.5" y="943" class="ax" textLength="53.5" lengthAdjust="spacingAndGlyphs">26 Jun 08:00</text>
<rect x="189" y="931" width="1" height="3" fill="#000"/>
<text x="187.5" y="943" class="ax" textLength="53.5" lengthAdjust="spacingAndGlyphs">27 Jun 00:00</text>
<rect x="253" y="931" width="1" height="3" fill="#000"/>
<text x="251.5" y="943" class="ax" textLength="53.5" lengthAdjust="spacingAndGlyphs">27 Jun 16:00</text>
<rect x="317" y="931" width="1" height="3" fill="#000"/>
<text x="315.5" y="943" class="ax" textLength="53.5" lengthAdjust="spacingAndGlyphs">28 Jun 08:00</text>
<rect x="381" y="931" width="1" height="3" fill="#000"/>
<text x="379.5" y="943" class="ax" textLength="45.3" lengthAdjust="spacingAndGlyphs">1 Jul 00:00</text>
<rect x="445" y="931" width="1" height="3" fill="#000"/>
<text x="443.5" y="943" class="ax" textLength="45.3" lengthAdjust="spacingAndGlyphs">1 Jul 16:00</text>
<rect x="509" y="931" width="1" height="3" fill="#000"/>
<text x="507.5" y="943" class="ax" textLength="45.3" lengthAdjust="spacingAndGlyphs">2 Jul 08:00</text>
<rect x="573" y="931" width="1" height="3" fill="#000"/>
<text x="571.5" y="943" class="ax" textLength="45.3" lengthAdjust="spacingAndGlyphs">3 Jul 00:00</text>
<rect x="637" y="931" width="1" height="3" fill="#000"/>
<text x="635.5" y="943" class="ax" textLength="45.3" lengthAdjust="spacingAndGlyphs">3 Jul 16:00</text>
<rect x="701" y="931" width="1" height="3" fill="#000"/>
<text x="699.5" y="943" class="ax" textLength="45.3" lengthAdjust="spacingAndGlyphs">4 Jul 08:00</text>
<rect x="765" y="931" width="1" height="3" fill="#000"/>
<text x="763.5" y="943" class="ax" textLength="45.3" lengthAdjust="spacingAndGlyphs">5 Jul 00:00</text>
<rect x="829" y="931" width="1" height="3" fill="#000"/>
<text x="827.5" y="943" class="ax" textLength="45.3" lengthAdjust="spacingAndGlyphs">5 Jul 16:00</text>
<rect x="893" y="931" width="1" height="3" fill="#000"/>
<text x="891.5" y="943" class="ax" textLength="45.3" lengthAdjust="spacingAndGlyphs">8 Jul 08:00</text>
<rect x="957" y="931" width="1" height="3" fill="#000"/>
<text x="955.5" y="943" class="ax" textLength="45.3" lengthAdjust="spacingAndGlyphs">9 Jul 00:00</text>
<rect x="1021" y="931" width="1" height="3" fill="#000"/>
<text x="1019.5" y="943" class="ax" textLength="45.3" lengthAdjust="spacingAndGlyphs">9 Jul 16:00</text>
<rect x="1085" y="931" width="1" height="3" fill="#000"/>
<text x="1083.5" y="943" class="ax" textLength="50.4" lengthAdjust="spacingAndGlyphs">10 Jul 08:00</text>
<rect x="1149" y="931" width="1" height="3" fill="#000"/>
<text x="1147.5" y="943" class="ax" textLength="49.7" lengthAdjust="spacingAndGlyphs">11 Jul 00:00</text>
<rect x="1213" y="931" width="1" height="3" fill="#000"/>
<text x="1211.5" y="943" class="ax" textLength="49.7" lengthAdjust="spacingAndGlyphs">11 Jul 16:00</text>
<rect x="1277" y="931" width="1" height="3" fill="#000"/>
<text x="1275.5" y="943" class="ax" textLength="50.4" lengthAdjust="spacingAndGlyphs">12 Jul 08:00</text>
<rect x="1341" y="931" width="1" height="3" fill="#000"/>
<text x="1339.5" y="943" class="ax" textLength="50.4" lengthAdjust="spacingAndGlyphs">15 Jul 00:00</text>
<rect x="1405" y="931" width="1" height="3" fill="#000"/>
<text x="1403.5" y="943" class="ax" textLength="50.4" lengthAdjust="spacingAndGlyphs">15 Jul 16:00</text>
<path d="M0 41.5 L3.5 37.5 L7 41.5 Z" fill="#000" shape-rendering="auto"/>
<text x="12" y="41.5" class="ax" textLength="53.5" lengthAdjust="spacingAndGlyphs">GBPJPY-,H4</text>
<text x="71" y="41.5" class="ax" textLength="141.5" lengthAdjust="spacingAndGlyphs">135.062 135.063 135.009 135.036</text>
<path d="M1439 31 L1449 31 L1444 36 Z" fill="#c0c0c0"/>
<g shape-rendering="auto"><text x="1080.5" y="524.5" font-size="32" font-weight="bold" fill="#0a4d0a" textLength="161" lengthAdjust="spacing" style='font-family:"Liberation Serif","Noto Serif CJK SC",serif'>多空转折点</text></g>
<g shape-rendering="auto"><text x="1079.5" y="523.5" font-size="32" font-weight="bold" fill="#00ff00" textLength="161" lengthAdjust="spacing" style='font-family:"Liberation Serif","Noto Serif CJK SC",serif'>多空转折点</text></g>
<rect x="1486" y="498" width="8" height="1" fill="#ff0000"/>
<rect x="1493.5" y="496.5" width="2" height="4" fill="#fff" stroke="#ff0000"/>
<rect x="1496.5" y="486.5" width="73" height="24" fill="#fff" stroke="#ff0000"/>
<text x="1498.5" y="506.6" font-family='"Liberation Sans", sans-serif' font-size="22.5" fill="#ff0000" letter-spacing="-1.5" shape-rendering="auto">135.122</text>
</svg>

<div class="oc">
 <div class="blk" style="left:0;top:50px;width:52px;height:24px;"></div>
 <div class="blk" style="left:168px;top:50px;width:51px;height:24px;"></div>
 <div class="blk2" style="left:0;top:74px;width:109px;height:40px;"></div>
 <div class="blk2" style="left:111px;top:74px;width:108px;height:40px;"></div>
 <div class="sep" style="left:4px;top:74px;width:44px;"></div>
 <div class="sep" style="left:171px;top:74px;width:44px;"></div>
 <div class="t" style="left:12px;top:55px;letter-spacing:-0.8px;">SELL</div>
 <div class="t" style="left:180px;top:55px;">BUY</div>
 <div class="inp"><div class="b1"><i class="dn"></i></div><div class="v">1.00</div><div class="b2"><i class="upa"></i></div></div>
 <div class="s" style="left:23.5px;top:94px;letter-spacing:0.8px;">135</div><div class="big" style="left:47px;top:76px;">03</div><div class="s" style="left:87.5px;top:78.5px;">6</div>
 <div class="s" style="left:133.5px;top:94px;letter-spacing:0.8px;">135</div><div class="big" style="left:158px;top:76px;">09</div><div class="s" style="left:198.5px;top:78.5px;">2</div>
</div>

<div class="rb"></div><div class="bb"></div>
<div id="tb"><div class="top"></div><div class="l1"></div><div class="l2"></div>
<svg width="1672" height="28" viewBox="0 0 1672 28" style="position:absolute;left:0;top:0">
<path d="M-2 6.5 H4 L7 9.5 V18 H-2 Z" fill="#fdfdfd" stroke="#9a9a9a" stroke-width="1"/>
<path d="M0 11.5 H4 M0 13.5 H3" stroke="#b0b0b0" stroke-width="1"/>
<path d="M3 13 h4 v3.5 h4 v4 h-4 v3.5 h-4 v-3.5 h-4 v-4 h4 z" fill="#2fd62f" stroke="#158a15" stroke-width="1"/>
<text x="14.6" y="17.3" font-size="12.2" fill="#000" stroke="#000" stroke-width="0.27" textLength="36.6" lengthAdjust="spacing" style='font-family:"Liberation Sans","Noto Sans CJK SC",sans-serif'>新订单</text>
<defs><linearGradient id="bk" x1="0" y1="0" x2="1" y2="1"><stop offset="0" stop-color="#d8a018"/><stop offset="0.45" stop-color="#fae070"/><stop offset="1" stop-color="#d09a18"/></linearGradient></defs>
<path d="M63 16.2 L68.5 7.2 Q69.3 6.5 70.3 7.2 L79 14.5 L78.6 16 L71.2 21.6 L63.3 17.5 Z" fill="#b07c10" stroke="#9a6a08" stroke-width="0.8"/>
<path d="M64.2 15.8 L69.3 7.8 L78 14.6 L71.3 19.6 Z" fill="url(#bk)"/>
<path d="M64 17 L71.3 20.7 L78.3 15.5" stroke="#f0e0a0" stroke-width="0.8" fill="none"/>
<path d="M93.5 7 L102 6 L104.5 8 V17 H94.5 Z" fill="#2aa0f0" stroke="#1878d0" stroke-width="1"/>
<path d="M97 9.5 H103 V17 H97 Z" fill="#e8f4ff"/><path d="M98.5 11.5 H102" stroke="#2a90e8"/>
<path d="M94 21.3 a2.8 2.8 0 0 1 -0.3 -5.3 a3.2 3.2 0 0 1 5.3 -1.2 a3.4 3.4 0 0 1 5.8 1.2 a2.7 2.7 0 0 1 0.2 5.3 Z" fill="#f0f4fb" stroke="#6a8cc8" stroke-width="1"/>
<defs><linearGradient id="sg" x1="0" y1="0" x2="1" y2="0"><stop offset="0" stop-color="#4a78e0"/><stop offset="0.5" stop-color="#7aa0d8"/><stop offset="0.55" stop-color="#68b068"/><stop offset="1" stop-color="#3a9a3a"/></linearGradient></defs>
<g fill="none" stroke="url(#sg)"><circle cx="127" cy="13.8" r="7.4" stroke-width="1.3" opacity="0.75"/><circle cx="127" cy="13.8" r="4.9" stroke-width="1.3"/><circle cx="127" cy="13.8" r="2.6" stroke-width="1.2"/></g>
<path d="M127 13.8 L127 21.6 A7.6 7.6 0 0 0 134.4 12 Z" fill="#58a858" opacity="0.55"/>
<circle cx="126.9" cy="13.4" r="1.6" fill="#2858c8"/><path d="M127.4 14.5 V21.8" stroke="#28a028" stroke-width="1.5"/>
<path d="M147.5 13 L161.5 13 L156 21.5 L152 21.5 Z" fill="#f4d840" stroke="#c09818" stroke-width="1"/>
<ellipse cx="154" cy="11" rx="7.8" ry="2.6" fill="#4aa0d8" stroke="#2878b0"/>
<path d="M150 10.5 a4 4 0 0 1 8 0 Z" fill="#68b8e8" stroke="#2878b0"/>
<circle cx="158.5" cy="17.8" r="4.2" fill="#e02810" stroke="#b01808" stroke-width="0.8"/><rect x="156.8" y="16.1" width="3.4" height="3.4" fill="#fff"/>
<text x="166.8" y="17.4" font-size="12" fill="#000" stroke="#000" stroke-width="0.26" textLength="47.5" lengthAdjust="spacing" style='font-family:"Liberation Sans","Noto Sans CJK SC",sans-serif'>自动交易</text>
<rect x="222" y="1" width="1" height="25" fill="#a0a0a0" shape-rendering="crispEdges"/>
<rect x="226" y="4" width="3" height="1" fill="#a8a8a8" shape-rendering="crispEdges"/>
<rect x="226" y="6" width="3" height="1" fill="#a8a8a8" shape-rendering="crispEdges"/>
<rect x="226" y="8" width="3" height="1" fill="#a8a8a8" shape-rendering="crispEdges"/>
<rect x="226" y="10" width="3" height="1" fill="#a8a8a8" shape-rendering="crispEdges"/>
<rect x="226" y="12" width="3" height="1" fill="#a8a8a8" shape-rendering="crispEdges"/>
<rect x="226" y="14" width="3" height="1" fill="#a8a8a8" shape-rendering="crispEdges"/>
<rect x="226" y="16" width="3" height="1" fill="#a8a8a8" shape-rendering="crispEdges"/>
<rect x="226" y="18" width="3" height="1" fill="#a8a8a8" shape-rendering="crispEdges"/>
<rect x="226" y="20" width="3" height="1" fill="#a8a8a8" shape-rendering="crispEdges"/>
<rect x="226" y="22" width="3" height="1" fill="#a8a8a8" shape-rendering="crispEdges"/>
<g stroke="#505050" stroke-width="1.25" fill="none"><path d="M240.5 8.5 V21.5 M238.0 19.5 H251.0"/></g><path d="M238.7 10.6 L240.5 7.6 L242.3 10.6 Z M249.7 17.7 L252.3 19.5 L249.7 21.3 Z" fill="#505050"/>
<path d="M247.5 9.5 V17.5 M244.5 16.5 H247.5 M247.5 10.5 H250" stroke="#0a8a0a" stroke-width="1.4" fill="none"/>
<rect x="260" y="2" width="25" height="22" fill="#f8f8f8" shape-rendering="crispEdges"/>
<rect x="260" y="2" width="25" height="1" fill="#a0a0a0" shape-rendering="crispEdges"/>
<rect x="260" y="2" width="1" height="22" fill="#a0a0a0" shape-rendering="crispEdges"/>
<g stroke="#505050" stroke-width="1.25" fill="none"><path d="M268.5 8.5 V21.5 M266.0 19.5 H279.0"/></g><path d="M266.7 10.6 L268.5 7.6 L270.3 10.6 Z M277.7 17.7 L280.3 19.5 L277.7 21.3 Z" fill="#505050"/>
<path d="M274.5 6 V18" stroke="#0a8a0a" stroke-width="1.4"/><rect x="272.2" y="8.5" width="4.6" height="7" fill="#40e040" stroke="#0a8a0a" stroke-width="1"/>
<g stroke="#505050" stroke-width="1.25" fill="none"><path d="M296.5 8.5 V21.5 M294.0 19.5 H307.0"/></g><path d="M294.7 10.6 L296.5 7.6 L298.3 10.6 Z M305.7 17.7 L308.3 19.5 L305.7 21.3 Z" fill="#505050"/>
<path d="M295 17 C298 15 300 11 301.5 11.5 S305 15 307 15" stroke="#3a9a3a" stroke-width="1.4" fill="none"/>
<rect x="317" y="3" width="1" height="21" fill="#a0a0a0" shape-rendering="crispEdges"/>
<path d="M335.6 16 L340.7 20.3" stroke="#a07808" stroke-width="3.2" stroke-linecap="round"/><path d="M335.8 16.2 L340.5 20.1" stroke="#e8c840" stroke-width="1.7" stroke-linecap="round"/>
<circle cx="331.8" cy="12.2" r="5.3" fill="#d8ecfa" stroke="#3a7cc8" stroke-width="1.3"/>
<path d="M328.8 12.2 H334.8 M331.8 9.2 V15.2" stroke="#4888b8" stroke-width="1.7"/>
<path d="M364.0 16 L369.09999999999997 20.3" stroke="#a07808" stroke-width="3.2" stroke-linecap="round"/><path d="M364.2 16.2 L368.9 20.1" stroke="#e8c840" stroke-width="1.7" stroke-linecap="round"/>
<circle cx="360.2" cy="12.2" r="5.3" fill="#d8ecfa" stroke="#3a7cc8" stroke-width="1.3"/>
<path d="M357.2 12.2 H363.2" stroke="#4888b8" stroke-width="1.7"/>
<rect x="382" y="6" width="7.7" height="7.5" fill="#3a9a1c"/><rect x="383.2" y="9" width="5.3" height="3.3" fill="#fff"/><rect x="384" y="10.2" width="3.6" height="0.9" fill="#3a9a1c" opacity="0.5"/>
<rect x="390.3" y="6" width="7.7" height="7.5" fill="#2050c8"/><rect x="391.5" y="9" width="5.3" height="3.3" fill="#fff"/><rect x="392.3" y="10.2" width="3.6" height="0.9" fill="#2050c8" opacity="0.5"/>
<rect x="382" y="14" width="7.7" height="7.5" fill="#2050c8"/><rect x="383.2" y="17" width="5.3" height="3.3" fill="#fff"/><rect x="384" y="18.2" width="3.6" height="0.9" fill="#2050c8" opacity="0.5"/>
<rect x="390.3" y="14" width="7.7" height="7.5" fill="#3a9a1c"/><rect x="391.5" y="17" width="5.3" height="3.3" fill="#fff"/><rect x="392.3" y="18.2" width="3.6" height="0.9" fill="#3a9a1c" opacity="0.5"/>
<rect x="407" y="3" width="1" height="21" fill="#a0a0a0" shape-rendering="crispEdges"/>
<rect x="412" y="2" width="25" height="22" fill="#f8f8f8" shape-rendering="crispEdges"/>
<rect x="412" y="2" width="25" height="1" fill="#a0a0a0" shape-rendering="crispEdges"/>
<rect x="412" y="2" width="1" height="22" fill="#a0a0a0" shape-rendering="crispEdges"/>
<g stroke="#505050" stroke-width="1.25" fill="none"><path d="M420.5 8.5 V21.5 M418.0 19.5 H431.0"/></g><path d="M418.7 10.6 L420.5 7.6 L422.3 10.6 Z M429.7 17.7 L432.3 19.5 L429.7 21.3 Z" fill="#505050"/>
<path d="M425 10 L429.5 13.5 L425 17 Z" fill="#30d030" stroke="#0a8a0a" stroke-width="0.9"/>
<rect x="440" y="2" width="25" height="22" fill="#f8f8f8" shape-rendering="crispEdges"/>
<rect x="440" y="2" width="25" height="1" fill="#a0a0a0" shape-rendering="crispEdges"/>
<rect x="440" y="2" width="1" height="22" fill="#a0a0a0" shape-rendering="crispEdges"/>
<g stroke="#505050" stroke-width="1.25" fill="none"><path d="M448.5 8.5 V21.5 M446.0 19.5 H459.0"/></g><path d="M446.7 10.6 L448.5 7.6 L450.3 10.6 Z M457.7 17.7 L460.3 19.5 L457.7 21.3 Z" fill="#505050"/>
<path d="M454.5 8 V17" stroke="#1878b8" stroke-width="1.4"/><path d="M460 13.3 H456 M458.3 11 L455.6 13.3 L458.3 15.6" stroke="#e04810" stroke-width="1.3" fill="none"/>
<rect x="469" y="3" width="1" height="21" fill="#a0a0a0" shape-rendering="crispEdges"/>
<path d="M479.5 7 H487 L490.5 10.5 V19 H479.5 Z" fill="#fbfbfb" stroke="#909090"/><path d="M484.5 9 q-2 0 -2 2 v4 q0 2 2 2" stroke="#707070" fill="none"/>
<path d="M487.3 12.5 h3.6 v3.6 h3.6 v3.6 h-3.6 v3.6 h-3.6 v-3.6 h-3.6 v-3.6 h3.6 z" fill="#2fd62f" stroke="#158a15" stroke-width="1"/>
<path d="M501 13 h5 l-2.5 3 z" fill="#000"/>
<circle cx="524.8" cy="14" r="6.6" fill="#fff" stroke="#1868c8" stroke-width="2.6"/><circle cx="524.8" cy="14" r="7.9" fill="none" stroke="#0c4898" stroke-width="0.6"/>
<path d="M524.8 10 V14.3 H527.5" stroke="#404040" stroke-width="1.2" fill="none"/>
<path d="M540 13 h5 l-2.5 3 z" fill="#000"/>
<rect x="556.5" y="7.5" width="15" height="13.5" fill="#fff" stroke="#2868c8" stroke-width="1.4"/><rect x="556.5" y="7.5" width="15" height="2" fill="#5898e8"/>
<path d="M557 15 H571" stroke="#5898e8" stroke-width="1"/>
<path d="M559 13 l2.5 -1 l2.5 0.5 l2.5 -1.5 l2.5 0.5" stroke="#b02810" stroke-width="1.2" fill="none"/><path d="M559 18.5 l2.5 -1 l2.5 0.8 l2 -1.8 l2.5 1.5" stroke="#189818" stroke-width="1.2" fill="none"/>
<path d="M579 13 h5 l-2.5 3 z" fill="#000"/>
<rect x="590" y="1" width="1" height="25" fill="#a0a0a0" shape-rendering="crispEdges"/>
<rect x="594" y="4" width="3" height="1" fill="#a8a8a8" shape-rendering="crispEdges"/>
<rect x="594" y="6" width="3" height="1" fill="#a8a8a8" shape-rendering="crispEdges"/>
<rect x="594" y="8" width="3" height="1" fill="#a8a8a8" shape-rendering="crispEdges"/>
<rect x="594" y="10" width="3" height="1" fill="#a8a8a8" shape-rendering="crispEdges"/>
<rect x="594" y="12" width="3" height="1" fill="#a8a8a8" shape-rendering="crispEdges"/>
<rect x="594" y="14" width="3" height="1" fill="#a8a8a8" shape-rendering="crispEdges"/>
<rect x="594" y="16" width="3" height="1" fill="#a8a8a8" shape-rendering="crispEdges"/>
<rect x="594" y="18" width="3" height="1" fill="#a8a8a8" shape-rendering="crispEdges"/>
<rect x="594" y="20" width="3" height="1" fill="#a8a8a8" shape-rendering="crispEdges"/>
<rect x="594" y="22" width="3" height="1" fill="#a8a8a8" shape-rendering="crispEdges"/>
<rect x="600" y="2" width="25" height="22" fill="#f8f8f8" shape-rendering="crispEdges"/>
<rect x="600" y="2" width="25" height="1" fill="#a0a0a0" shape-rendering="crispEdges"/>
<rect x="600" y="2" width="1" height="22" fill="#a0a0a0" shape-rendering="crispEdges"/>
<path d="M608 7 L608 18.2 L610.8 15.8 L613.2 21.2 L615 20.4 L612.6 15.2 L616.2 15 Z" fill="#505050"/>
<path d="M633 14.5 H639 M642 14.5 H648 M640.5 7 V13 M640.5 16 V22" stroke="#505050" stroke-width="1.2"/><rect x="640" y="14" width="1" height="1" fill="#505050"/>
<rect x="657" y="3" width="1" height="21" fill="#a0a0a0" shape-rendering="crispEdges"/>
<path d="M674.5 8 V21" stroke="#505050" stroke-width="1.3"/>
<path d="M697 14.5 H709" stroke="#505050" stroke-width="1.3"/>
<path d="M724.7 20.8 L737 9" stroke="#505050" stroke-width="1.3"/>
<g stroke="#505050" stroke-width="1" fill="none"><path d="M751 16 L763 7 M752 19 L764.5 10 M753.5 21 L765 13"/><path d="M755 11 L756.5 20 M758.5 9 L760 18 M762 6.5 L763 15.5"/></g>
<path d="M762.5 18.5 V22.3 M762.5 18.5 H765.5 M762.5 20.3 H765 M762.5 22.3 H765.5" stroke="#303030" stroke-width="1.1" fill="none"/>
<path d="M780 7.5 H793" stroke="#505050" stroke-width="1" stroke-dasharray="1 1" shape-rendering="crispEdges"/>
<path d="M780 10.5 H793" stroke="#505050" stroke-width="1" stroke-dasharray="1 1" shape-rendering="crispEdges"/>
<path d="M780 14.5 H793" stroke="#505050" stroke-width="1" stroke-dasharray="1 1" shape-rendering="crispEdges"/>
<path d="M780 18.5 H788" stroke="#505050" stroke-width="1" stroke-dasharray="1 1" shape-rendering="crispEdges"/>
<path d="M790.3 22.3 V18.5 H793.3 M790.3 20.4 H792.8" stroke="#303030" stroke-width="1.1" fill="none"/>
<text x="810.6" y="18.7" font-size="11.5" fill="#505050" stroke="#505050" stroke-width="0.35">A</text>
<rect x="836.5" y="7.5" width="12" height="13" fill="none" stroke="#505050" stroke-width="1" stroke-dasharray="1 1" shape-rendering="crispEdges"/>
<path d="M839 11.8 H846.5 M842.75 11.8 V18.8" stroke="#505050" stroke-width="1.7" fill="none"/>
<path d="M867.5 8 L871 11.5 L867.5 13 L864 11.5 Z M874.5 20.8 L871 17.5 L874.5 16 L878 17.5 Z" fill="#505050"/><path d="M866 14.5 L868.5 17 L873.5 11.5" stroke="#505050" stroke-width="1.3" fill="none"/>
<path d="M885 13 h5 l-2.5 3 z" fill="#000"/>
<rect x="896" y="1" width="1" height="25" fill="#a0a0a0" shape-rendering="crispEdges"/>
<rect x="900" y="4" width="3" height="1" fill="#a8a8a8" shape-rendering="crispEdges"/>
<rect x="900" y="6" width="3" height="1" fill="#a8a8a8" shape-rendering="crispEdges"/>
<rect x="900" y="8" width="3" height="1" fill="#a8a8a8" shape-rendering="crispEdges"/>
<rect x="900" y="10" width="3" height="1" fill="#a8a8a8" shape-rendering="crispEdges"/>
<rect x="900" y="12" width="3" height="1" fill="#a8a8a8" shape-rendering="crispEdges"/>
<rect x="900" y="14" width="3" height="1" fill="#a8a8a8" shape-rendering="crispEdges"/>
<rect x="900" y="16" width="3" height="1" fill="#a8a8a8" shape-rendering="crispEdges"/>
<rect x="900" y="18" width="3" height="1" fill="#a8a8a8" shape-rendering="crispEdges"/>
<rect x="900" y="20" width="3" height="1" fill="#a8a8a8" shape-rendering="crispEdges"/>
<rect x="900" y="22" width="3" height="1" fill="#a8a8a8" shape-rendering="crispEdges"/>
<rect x="1046" y="2" width="25" height="22" fill="#f8f8f8" shape-rendering="crispEdges"/>
<rect x="1046" y="2" width="25" height="1" fill="#a0a0a0" shape-rendering="crispEdges"/>
<rect x="1046" y="2" width="1" height="22" fill="#a0a0a0" shape-rendering="crispEdges"/>
<text x="911" y="17.6" font-size="10" fill="#404040" textLength="13.5" lengthAdjust="spacingAndGlyphs">M1</text>
<text x="939" y="17.6" font-size="10" fill="#404040" textLength="13" lengthAdjust="spacingAndGlyphs">M5</text>
<text x="965" y="17.6" font-size="10" fill="#404040" textLength="18" lengthAdjust="spacingAndGlyphs">M15</text>
<text x="993" y="17.6" font-size="10" fill="#404040" textLength="17.6" lengthAdjust="spacingAndGlyphs">M30</text>
<text x="1024" y="17.6" font-size="10" fill="#404040" textLength="12.5" lengthAdjust="spacingAndGlyphs">H1</text>
<text x="1051" y="17.6" font-size="10" fill="#404040" textLength="13.5" lengthAdjust="spacingAndGlyphs">H4</text>
<text x="1080" y="17.6" font-size="10" fill="#404040" textLength="12.5" lengthAdjust="spacingAndGlyphs">D1</text>
<text x="1107.5" y="17.6" font-size="10" fill="#404040" textLength="13.5" lengthAdjust="spacingAndGlyphs">W1</text>
<text x="1134" y="17.6" font-size="10" fill="#404040" textLength="15.5" lengthAdjust="spacingAndGlyphs">MN</text>
<rect x="1157" y="1" width="1" height="25" fill="#a0a0a0" shape-rendering="crispEdges"/>
<path d="M1620.4 19.4 L1624.5 15.3" stroke="#2050c0" stroke-width="2.6" stroke-linecap="round"/><circle cx="1627.3" cy="11.5" r="4" fill="#fdfdfd" stroke="#2858d0" stroke-width="1.5"/>
<path d="M1655 13.5 a5.8 4.6 0 1 1 8 0.8 l1 2.3 l-3 -1.5 Z" fill="#fafafa" stroke="#a0a0a0" stroke-width="0.9"/>
<path d="M1649.5 19 a4.6 3.8 0 1 1 3.5 0.3 l-3.6 1.8 Z" fill="#f4f4f6" stroke="#989898" stroke-width="0.9"/>
</svg>
</div>
</body></html>
